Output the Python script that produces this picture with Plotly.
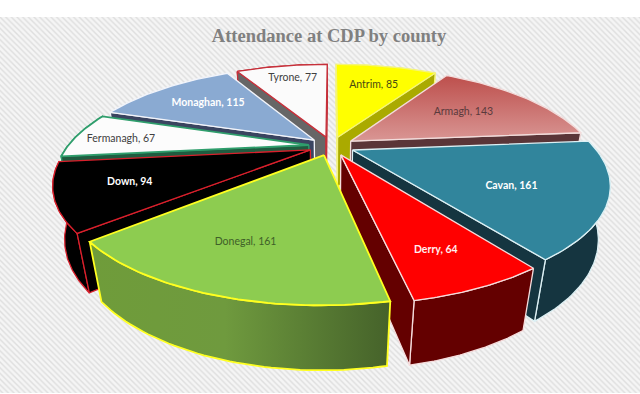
import math
import plotly.graph_objects as go

counties = ["Antrim", "Armagh", "Cavan", "Derry", "Donegal", "Down", "Fermanagh", "Monaghan", "Tyrone"]
attendance = [85, 143, 161, 64, 161, 94, 67, 115, 77]
title_text = "Attendance at CDP by county"

top_fill = ["#ffff00", None, "#31859c", "#ff0000", "#8dcc50", "#000000", "#fcfcfc", "#8aaad2", "#fbfbfb"]
edge_col = ["#f4f47a", "#f2dcdb", "#dcf0f4", "#f6dcdc", "#ffff20", "#d9202c", "#2f9e6c", "#f2f4fa", "#c6303a"]
wall_col = ["#aaaa00", "#5a3538", "#153540", "#640000", None, "#000000", "#1f5c40", "#3a4460", "#666666"]
text_col = ["#4a4a10", "#5a3a3c", "#ffffff", "#ffeeee", "#3f6028", "#ffffff", "#404040", "#ffffff", "#404040"]
text_bold = [False, False, True, True, False, True, False, True, False]
label_radius = [0.69, 0.62, 0.665, 0.775, 0.71, 0.73, 0.80, 0.67, 0.78]
label_turn = [0, 0, 4, 1, 1.5, 0, -1.4, 0, 1]
draw_order = [8, 7, 6, 5, 0, 1, 2, 3, 4]

CX, CY = 331.5, 146
A, B, C = 241, 99, 0.296
DEPTH_D, DEPTH_G = 0.04, 53
EXPLODE = 0.095


def project(u, v, z=0):
    den = 1 + C * v + DEPTH_D * z
    return CX + A * u / den, CY + (-B * v + DEPTH_G * z) / den


total = sum(attendance)
starts = [sum(attendance[:i]) / total * 2 * math.pi for i in range(len(attendance))]
sweeps = [a / total * 2 * math.pi for a in attendance]

fig = go.Figure()

# hatched page panel
fig.add_trace(go.Scatter(
    x=[0, 640, 640, 0, 0], y=[17, 17, 393, 393, 17], mode="lines", fill="toself",
    line=dict(width=0), fillcolor="#f4f4f4",
    fillpattern=dict(shape="\\", size=4, solidity=0.35, fgcolor="#dedede", bgcolor="#f5f5f5", fillmode="replace"),
    hoverinfo="skip", showlegend=False))


def poly(pts, fill, edge, width=1.3, gradient=None):
    xs = [p[0] for p in pts] + [pts[0][0]]
    ys = [p[1] for p in pts] + [pts[0][1]]
    kw = dict(x=xs, y=ys, mode="lines", fill="toself", line=dict(color=edge, width=width),
              hoverinfo="skip", showlegend=False)
    if gradient:
        kw["fillgradient"] = gradient
    else:
        kw["fillcolor"] = fill
    fig.add_trace(go.Scatter(**kw))


def face_visible(apex, rim, inner):
    dx, dy = rim[0] - apex[0], rim[1] - apex[1]
    inner_side = dx * (inner[1] - apex[1]) - dy * (inner[0] - apex[0])
    down_side = dx * 1.0
    return inner_side * down_side < 0


for i in draw_order:
    s, w = starts[i], sweeps[i]
    m = s + w / 2
    ox, oy = EXPLODE * math.sin(m), EXPLODE * math.cos(m)
    ring = [(ox + math.sin(s + w * k / 48), oy + math.cos(s + w * k / 48)) for k in range(49)]
    e = edge_col[i]
    wc = wall_col[i]
    apex_top = project(ox, oy)
    inner = project(*ring[24])
    # outer face first
    face = [project(*p) for p in ring] + [project(*p, 1) for p in reversed(ring)]
    if counties[i] == "Donegal":
        poly(face, None, e, 1.8, dict(type="horizontal", colorscale=[[0, "#6f9c3a"], [0.45, "#6f9a3e"], [1, "#45622a"]]))
    else:
        poly(face, wc, e)
    # radial faces that look toward the viewer
    for rim in (ring[0], ring[-1]):
        if face_visible(apex_top, project(*rim), inner):
            poly([apex_top, project(*rim), project(*rim, 1), project(ox, oy, 1)], wc or "#4f7030", e)
    # top face
    top = [apex_top] + [project(*p) for p in ring]
    if counties[i] == "Armagh":
        poly(top, None, e, 1.3, dict(type="vertical", colorscale=[[0, "#d99694"], [1, "#bd4f4c"]]))
    else:
        poly(top, top_fill[i], e, 1.8 if counties[i] in ("Donegal", "Fermanagh") else 1.3)

# labels
for i, name in enumerate(counties):
    m = starts[i] + sweeps[i] / 2 + math.radians(label_turn[i])
    r = label_radius[i] + EXPLODE
    lx, ly = project(r * math.sin(m), r * math.cos(m))
    label = f"{name}, {attendance[i]}"
    fig.add_trace(go.Scatter(
        x=[lx], y=[ly], mode="text",
        text=[f"<b>{label}</b>" if text_bold[i] else label],
        textposition="middle center",
        textfont=dict(family="Lato", size=10.5, color=text_col[i]),
        hoverinfo="skip", showlegend=False))

fig.update_layout(
    width=640, height=394, margin=dict(l=0, r=0, t=0, b=0),
    paper_bgcolor="#ffffff", plot_bgcolor="#ffffff",
    xaxis=dict(range=[0, 640], visible=False, fixedrange=True),
    yaxis=dict(range=[394, 0], visible=False, fixedrange=True),
    title=dict(text=f"<b>{title_text}</b>", x=329 / 640, xanchor="center", y=1 - 36 / 394, yanchor="middle",
               font=dict(family="Liberation Serif", size=18.5, color="#808080")),
)
fig.write_html("out.html", config={"displayModeBar": False},
               post_script="document.body.style.margin='0';document.body.style.overflow='hidden';")
